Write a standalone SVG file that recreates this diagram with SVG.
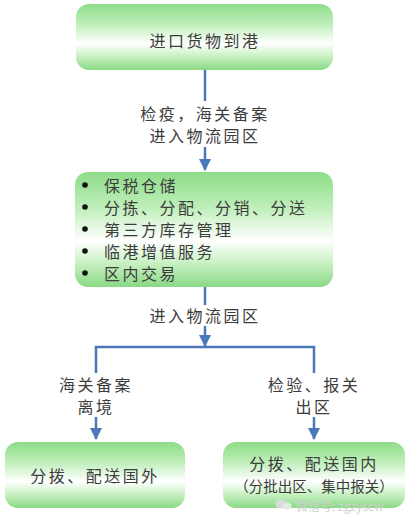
<svg xmlns="http://www.w3.org/2000/svg" width="410" height="521" viewBox="0 0 410 521">
<defs>
<linearGradient id="g" x1="0" y1="0" x2="0" y2="1">
<stop offset="0" stop-color="#8edc88"/>
<stop offset="0.3" stop-color="#bdeeb8"/>
<stop offset="0.6" stop-color="#ffffff"/>
<stop offset="0.8" stop-color="#c6f0c0"/>
<stop offset="1" stop-color="#8ad886"/>
</linearGradient>
<marker id="ah" markerUnits="userSpaceOnUse" markerWidth="12" markerHeight="12" viewBox="0 0 12 12" refX="11" refY="6" orient="auto">
<path d="M0,0 L12,6 L0,12 Z" fill="#4a78b8"/>
</marker>
</defs>
<style>
.box{fill:url(#g);}
.t{font-family:"Noto Sans CJK SC","Noto Sans CJK JP",sans-serif;font-size:16px;fill:#3c3c3c;letter-spacing:2.5px;}
.c{stroke:#4a78b8;stroke-width:2.5;fill:none;}
.dot{fill:#111;}
.wm{font-family:"Noto Sans CJK SC","Liberation Sans",sans-serif;font-size:12px;fill:#cfd3cf;}
</style>
<rect width="410" height="521" fill="#ffffff"/>

<g id="connectors">
<line class="c" x1="205" y1="70" x2="205" y2="101"/>
<line class="c" x1="205" y1="147" x2="205" y2="170" marker-end="url(#ah)"/>
<text class="t" x="205" y="113" text-anchor="middle" dominant-baseline="central">检疫，海关备案</text>
<text class="t" x="205" y="135" text-anchor="middle" dominant-baseline="central">进入物流园区</text>
<line class="c" x1="205" y1="287" x2="205" y2="305"/>
<text class="t" x="205" y="315" text-anchor="middle" dominant-baseline="central">进入物流园区</text>
<line class="c" x1="205" y1="326" x2="205" y2="346" marker-end="url(#ah)"/>
<polyline class="c" points="96,373 96,347 314,347 314,373"/>
<text class="t" x="96" y="384" text-anchor="middle" dominant-baseline="central">海关备案</text>
<text class="t" x="96" y="406" text-anchor="middle" dominant-baseline="central">离境</text>
<text class="t" x="314" y="384" text-anchor="middle" dominant-baseline="central">检验、报关</text>
<text class="t" x="314" y="406" text-anchor="middle" dominant-baseline="central">出区</text>
<line class="c" x1="96" y1="417" x2="96" y2="439" marker-end="url(#ah)"/>
<line class="c" x1="314" y1="417" x2="314" y2="439" marker-end="url(#ah)"/>
</g>

<g id="node-arrival">
<rect class="box" x="76" y="4" width="257" height="66" rx="13"/>
<text class="t" x="205" y="40" text-anchor="middle" dominant-baseline="central">进口货物到港</text>
</g>

<g id="node-park">
<rect class="box" x="75" y="172" width="258" height="115" rx="13"/>
<circle class="dot" cx="85" cy="185" r="2.8"/>
<circle class="dot" cx="85" cy="207" r="2.8"/>
<circle class="dot" cx="85" cy="229" r="2.8"/>
<circle class="dot" cx="85" cy="251" r="2.8"/>
<circle class="dot" cx="85" cy="273" r="2.8"/>
<text class="t" x="104" y="185" dominant-baseline="central">保税仓储</text>
<text class="t" x="104" y="207" dominant-baseline="central">分拣、分配、分销、分送</text>
<text class="t" x="104" y="229" dominant-baseline="central">第三方库存管理</text>
<text class="t" x="104" y="251" dominant-baseline="central">临港增值服务</text>
<text class="t" x="104" y="273" dominant-baseline="central">区内交易</text>
</g>

<g id="node-abroad">
<rect class="box" x="5" y="442" width="180" height="66" rx="13"/>
<text class="t" x="95" y="475" text-anchor="middle" dominant-baseline="central">分拨、配送国外</text>
</g>

<g id="node-domestic">
<rect class="box" x="223" y="442" width="182" height="66" rx="13"/>
<text class="t" x="314" y="463" text-anchor="middle" dominant-baseline="central">分拨、配送国内</text>
<text class="t" x="314" y="485" text-anchor="middle" dominant-baseline="central" style="font-size:14.5px;letter-spacing:0">（分批出区、集中报关）</text>
</g>

<g id="watermark">
<ellipse cx="281" cy="504" rx="5.5" ry="4.5" fill="#d8dcd8"/>
<ellipse cx="287" cy="506" rx="4.5" ry="3.5" fill="#e4e8e4"/>
<text class="wm" x="296" y="505" dominant-baseline="central">微信号: zgzyscw</text>
</g>
</svg>
